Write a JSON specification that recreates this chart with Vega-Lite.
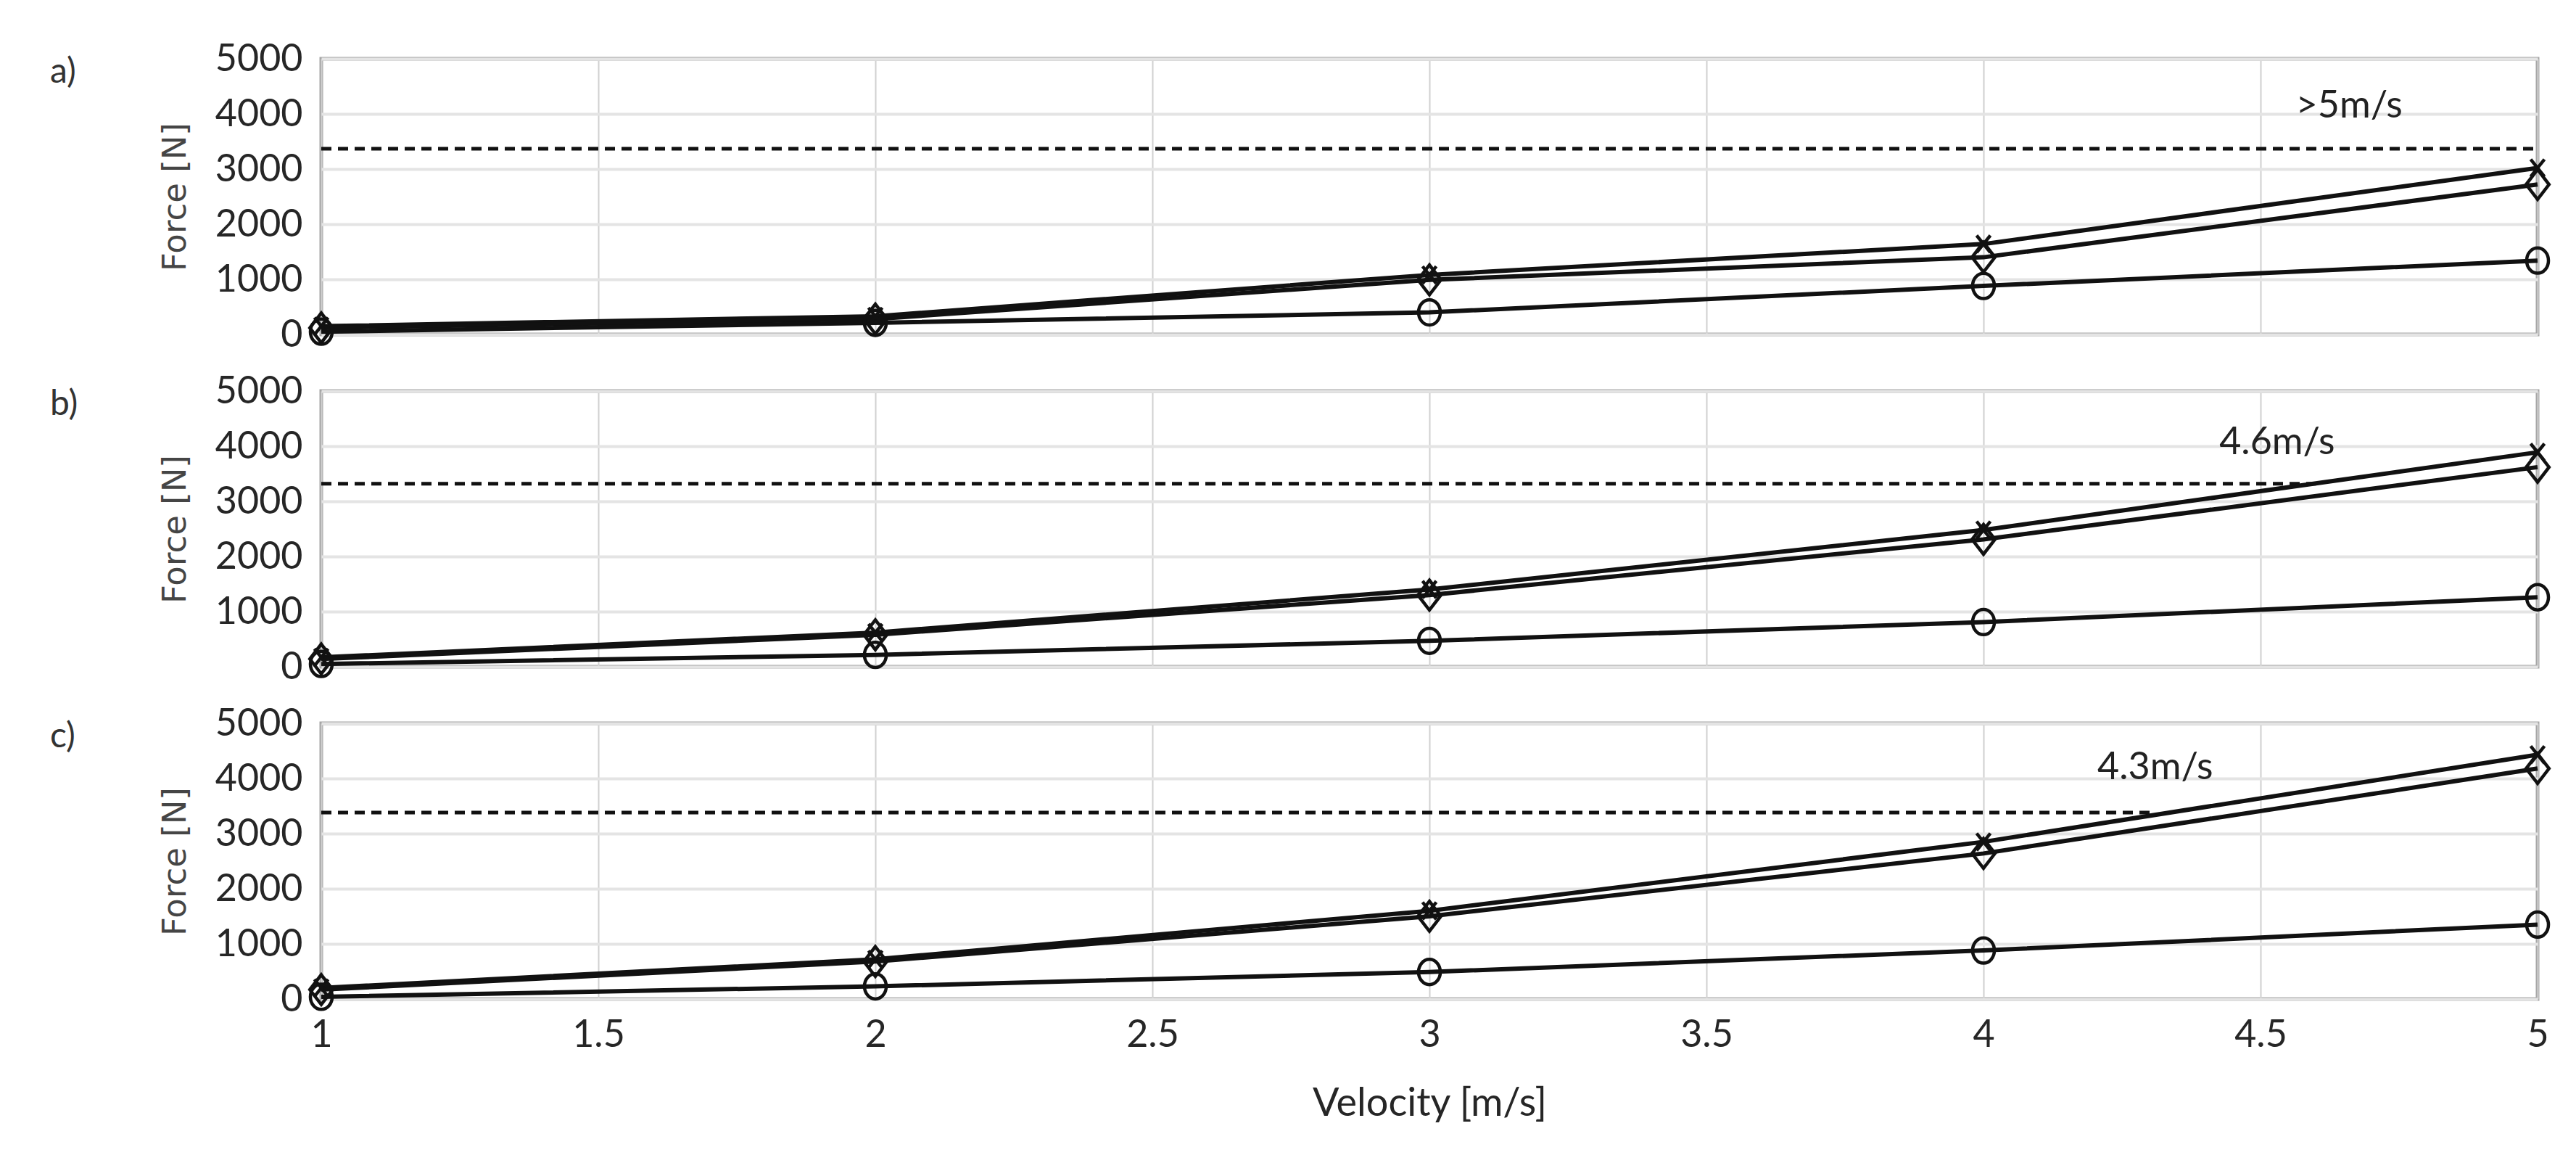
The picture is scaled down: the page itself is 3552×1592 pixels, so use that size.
{
  "$schema": "https://vega.github.io/schema/vega-lite/v6.json",
  "background": "white",
  "padding": {"left": 66, "top": 52, "right": 40, "bottom": 20},
  "bounds": "flush",
  "spacing": 78,
  "config": {
    "font": "Lato",
    "view": {"stroke": "#a6a6a6", "strokeWidth": 5},
    "axis": {
      "domain": false,
      "ticks": false,
      "labelFont": "Lato",
      "labelFontSize": 52,
      "labelColor": "#262626",
      "labelFlush": false,
      "titleFont": "Lato",
      "titleFontWeight": "normal",
      "titleColor": "#262626"
    },
    "axisX": {"gridColor": "#d0d0d0", "gridWidth": 2, "labelPadding": 24, "titleFontSize": 54, "titlePadding": 42},
    "axisY": {"gridColor": "#e4e4e4", "gridWidth": 4, "labelPadding": 26, "titleFont": "DejaVu Sans", "titleFontSize": 45, "titleColor": "#454545", "titlePadding": 32}
  },
  "datasets": {
    "forces": [
      {"panel": "a", "series": "cross", "velocity": 1, "force": 150},
      {"panel": "a", "series": "cross", "velocity": 2, "force": 330},
      {"panel": "a", "series": "cross", "velocity": 3, "force": 1080},
      {"panel": "a", "series": "cross", "velocity": 4, "force": 1640},
      {"panel": "a", "series": "cross", "velocity": 5, "force": 3020},
      {"panel": "a", "series": "diamond", "velocity": 1, "force": 120},
      {"panel": "a", "series": "diamond", "velocity": 2, "force": 280},
      {"panel": "a", "series": "diamond", "velocity": 3, "force": 990},
      {"panel": "a", "series": "diamond", "velocity": 4, "force": 1400},
      {"panel": "a", "series": "diamond", "velocity": 5, "force": 2720},
      {"panel": "a", "series": "circle", "velocity": 1, "force": 50},
      {"panel": "a", "series": "circle", "velocity": 2, "force": 210},
      {"panel": "a", "series": "circle", "velocity": 3, "force": 400},
      {"panel": "a", "series": "circle", "velocity": 4, "force": 880},
      {"panel": "a", "series": "circle", "velocity": 5, "force": 1340},
      {"panel": "b", "series": "cross", "velocity": 1, "force": 170},
      {"panel": "b", "series": "cross", "velocity": 2, "force": 620},
      {"panel": "b", "series": "cross", "velocity": 3, "force": 1400},
      {"panel": "b", "series": "cross", "velocity": 4, "force": 2480},
      {"panel": "b", "series": "cross", "velocity": 5, "force": 3890},
      {"panel": "b", "series": "diamond", "velocity": 1, "force": 140},
      {"panel": "b", "series": "diamond", "velocity": 2, "force": 580},
      {"panel": "b", "series": "diamond", "velocity": 3, "force": 1300},
      {"panel": "b", "series": "diamond", "velocity": 4, "force": 2310},
      {"panel": "b", "series": "diamond", "velocity": 5, "force": 3620},
      {"panel": "b", "series": "circle", "velocity": 1, "force": 50},
      {"panel": "b", "series": "circle", "velocity": 2, "force": 215},
      {"panel": "b", "series": "circle", "velocity": 3, "force": 470},
      {"panel": "b", "series": "circle", "velocity": 4, "force": 810},
      {"panel": "b", "series": "circle", "velocity": 5, "force": 1260},
      {"panel": "c", "series": "cross", "velocity": 1, "force": 200},
      {"panel": "c", "series": "cross", "velocity": 2, "force": 720},
      {"panel": "c", "series": "cross", "velocity": 3, "force": 1600},
      {"panel": "c", "series": "cross", "velocity": 4, "force": 2850},
      {"panel": "c", "series": "cross", "velocity": 5, "force": 4430},
      {"panel": "c", "series": "diamond", "velocity": 1, "force": 170},
      {"panel": "c", "series": "diamond", "velocity": 2, "force": 680},
      {"panel": "c", "series": "diamond", "velocity": 3, "force": 1500},
      {"panel": "c", "series": "diamond", "velocity": 4, "force": 2640},
      {"panel": "c", "series": "diamond", "velocity": 5, "force": 4180},
      {"panel": "c", "series": "circle", "velocity": 1, "force": 40},
      {"panel": "c", "series": "circle", "velocity": 2, "force": 230},
      {"panel": "c", "series": "circle", "velocity": 3, "force": 490},
      {"panel": "c", "series": "circle", "velocity": 4, "force": 880},
      {"panel": "c", "series": "circle", "velocity": 5, "force": 1350}
    ],
    "limits": [
      {"panel": "a", "from": 1, "to": 5, "force": 3370},
      {"panel": "b", "from": 1, "to": 4.6, "force": 3320},
      {"panel": "c", "from": 1, "to": 4.3, "force": 3380}
    ],
    "notes": [
      {"panel": "a", "velocity": 4.66, "force": 4150, "label": ">5m/s"},
      {"panel": "b", "velocity": 4.53, "force": 4060, "label": "4.6m/s"},
      {"panel": "c", "velocity": 4.31, "force": 4200, "label": "4.3m/s"}
    ]
  },
  "vconcat": [
    {
      "width": 3056,
      "height": 380,
      "title": {"text": "a)", "anchor": "start", "frame": "group", "align": "left", "baseline": "middle", "dx": -374, "dy": 93, "offset": 0, "fontSize": 48, "fontWeight": "normal", "font": "Lato", "color": "#333333"},
      "layer": [
        {
          "data": {"name": "limits"},
          "transform": [{"filter": "datum.panel === 'a'"}],
          "mark": {"type": "rule", "color": "#111111", "strokeWidth": 5, "strokeDash": [14, 9]},
          "encoding": {
            "x": {"field": "from", "type": "quantitative", "scale": {"domain": [1, 5], "nice": false},
                  "axis": {"values": [1, 1.5, 2, 2.5, 3, 3.5, 4, 4.5, 5], "labels": false, "title": null}},
            "x2": {"field": "to"},
            "y": {"field": "force", "type": "quantitative", "scale": {"domain": [0, 5000], "nice": false},
                  "axis": {"values": [0, 1000, 2000, 3000, 4000, 5000], "format": "d", "title": "Force [N]"}}
          }
        },
        {
          "data": {"name": "forces"},
          "transform": [{"filter": "datum.panel === 'a'"}],
          "mark": {"type": "line", "color": "#111111", "strokeWidth": 6},
          "encoding": {
            "x": {"field": "velocity", "type": "quantitative"},
            "y": {"field": "force", "type": "quantitative"},
            "detail": {"field": "series"}
          }
        },
        {
          "data": {"name": "forces"},
          "transform": [{"filter": "datum.panel === 'a'"}],
          "mark": {"type": "point", "filled": false, "color": "#111111", "strokeWidth": 4.5, "size": 1000, "opacity": 1},
          "encoding": {
            "x": {"field": "velocity", "type": "quantitative"},
            "y": {"field": "force", "type": "quantitative"},
            "shape": {"field": "series", "type": "nominal", "legend": null,
                      "scale": {"domain": ["cross", "diamond", "circle"],
                                "range": ["M-0.6,-0.75L0.6,0.75M0.6,-0.75L-0.6,0.75", "M0,-1.3L1,0L0,1.3L-1,0Z", "M0,-1.1A0.95,1.1 0 1,1 0,1.1A0.95,1.1 0 1,1 0,-1.1Z"]}}
          }
        },
        {
          "data": {"name": "notes"},
          "transform": [{"filter": "datum.panel === 'a'"}],
          "mark": {"type": "text", "font": "Lato", "fontSize": 52, "color": "#222222", "align": "center", "baseline": "middle"},
          "encoding": {
            "x": {"field": "velocity", "type": "quantitative"},
            "y": {"field": "force", "type": "quantitative"},
            "text": {"field": "label"}
          }
        }
      ]
    },
    {
      "width": 3056,
      "height": 380,
      "title": {"text": "b)", "anchor": "start", "frame": "group", "align": "left", "baseline": "middle", "dx": -374, "dy": 93, "offset": 0, "fontSize": 48, "fontWeight": "normal", "font": "Lato", "color": "#333333"},
      "layer": [
        {
          "data": {"name": "limits"},
          "transform": [{"filter": "datum.panel === 'b'"}],
          "mark": {"type": "rule", "color": "#111111", "strokeWidth": 5, "strokeDash": [14, 9]},
          "encoding": {
            "x": {"field": "from", "type": "quantitative", "scale": {"domain": [1, 5], "nice": false},
                  "axis": {"values": [1, 1.5, 2, 2.5, 3, 3.5, 4, 4.5, 5], "labels": false, "title": null}},
            "x2": {"field": "to"},
            "y": {"field": "force", "type": "quantitative", "scale": {"domain": [0, 5000], "nice": false},
                  "axis": {"values": [0, 1000, 2000, 3000, 4000, 5000], "format": "d", "title": "Force [N]"}}
          }
        },
        {
          "data": {"name": "forces"},
          "transform": [{"filter": "datum.panel === 'b'"}],
          "mark": {"type": "line", "color": "#111111", "strokeWidth": 6},
          "encoding": {
            "x": {"field": "velocity", "type": "quantitative"},
            "y": {"field": "force", "type": "quantitative"},
            "detail": {"field": "series"}
          }
        },
        {
          "data": {"name": "forces"},
          "transform": [{"filter": "datum.panel === 'b'"}],
          "mark": {"type": "point", "filled": false, "color": "#111111", "strokeWidth": 4.5, "size": 1000, "opacity": 1},
          "encoding": {
            "x": {"field": "velocity", "type": "quantitative"},
            "y": {"field": "force", "type": "quantitative"},
            "shape": {"field": "series", "type": "nominal", "legend": null,
                      "scale": {"domain": ["cross", "diamond", "circle"],
                                "range": ["M-0.6,-0.75L0.6,0.75M0.6,-0.75L-0.6,0.75", "M0,-1.3L1,0L0,1.3L-1,0Z", "M0,-1.1A0.95,1.1 0 1,1 0,1.1A0.95,1.1 0 1,1 0,-1.1Z"]}}
          }
        },
        {
          "data": {"name": "notes"},
          "transform": [{"filter": "datum.panel === 'b'"}],
          "mark": {"type": "text", "font": "Lato", "fontSize": 52, "color": "#222222", "align": "center", "baseline": "middle"},
          "encoding": {
            "x": {"field": "velocity", "type": "quantitative"},
            "y": {"field": "force", "type": "quantitative"},
            "text": {"field": "label"}
          }
        }
      ]
    },
    {
      "width": 3056,
      "height": 380,
      "title": {"text": "c)", "anchor": "start", "frame": "group", "align": "left", "baseline": "middle", "dx": -374, "dy": 93, "offset": 0, "fontSize": 48, "fontWeight": "normal", "font": "Lato", "color": "#333333"},
      "layer": [
        {
          "data": {"name": "limits"},
          "transform": [{"filter": "datum.panel === 'c'"}],
          "mark": {"type": "rule", "color": "#111111", "strokeWidth": 5, "strokeDash": [14, 9]},
          "encoding": {
            "x": {"field": "from", "type": "quantitative", "scale": {"domain": [1, 5], "nice": false},
                  "axis": {"values": [1, 1.5, 2, 2.5, 3, 3.5, 4, 4.5, 5], "format": "~g", "title": "Velocity [m/s]"}},
            "x2": {"field": "to"},
            "y": {"field": "force", "type": "quantitative", "scale": {"domain": [0, 5000], "nice": false},
                  "axis": {"values": [0, 1000, 2000, 3000, 4000, 5000], "format": "d", "title": "Force [N]"}}
          }
        },
        {
          "data": {"name": "forces"},
          "transform": [{"filter": "datum.panel === 'c'"}],
          "mark": {"type": "line", "color": "#111111", "strokeWidth": 6},
          "encoding": {
            "x": {"field": "velocity", "type": "quantitative"},
            "y": {"field": "force", "type": "quantitative"},
            "detail": {"field": "series"}
          }
        },
        {
          "data": {"name": "forces"},
          "transform": [{"filter": "datum.panel === 'c'"}],
          "mark": {"type": "point", "filled": false, "color": "#111111", "strokeWidth": 4.5, "size": 1000, "opacity": 1},
          "encoding": {
            "x": {"field": "velocity", "type": "quantitative"},
            "y": {"field": "force", "type": "quantitative"},
            "shape": {"field": "series", "type": "nominal", "legend": null,
                      "scale": {"domain": ["cross", "diamond", "circle"],
                                "range": ["M-0.6,-0.75L0.6,0.75M0.6,-0.75L-0.6,0.75", "M0,-1.3L1,0L0,1.3L-1,0Z", "M0,-1.1A0.95,1.1 0 1,1 0,1.1A0.95,1.1 0 1,1 0,-1.1Z"]}}
          }
        },
        {
          "data": {"name": "notes"},
          "transform": [{"filter": "datum.panel === 'c'"}],
          "mark": {"type": "text", "font": "Lato", "fontSize": 52, "color": "#222222", "align": "center", "baseline": "middle"},
          "encoding": {
            "x": {"field": "velocity", "type": "quantitative"},
            "y": {"field": "force", "type": "quantitative"},
            "text": {"field": "label"}
          }
        }
      ]
    }
  ]
}
